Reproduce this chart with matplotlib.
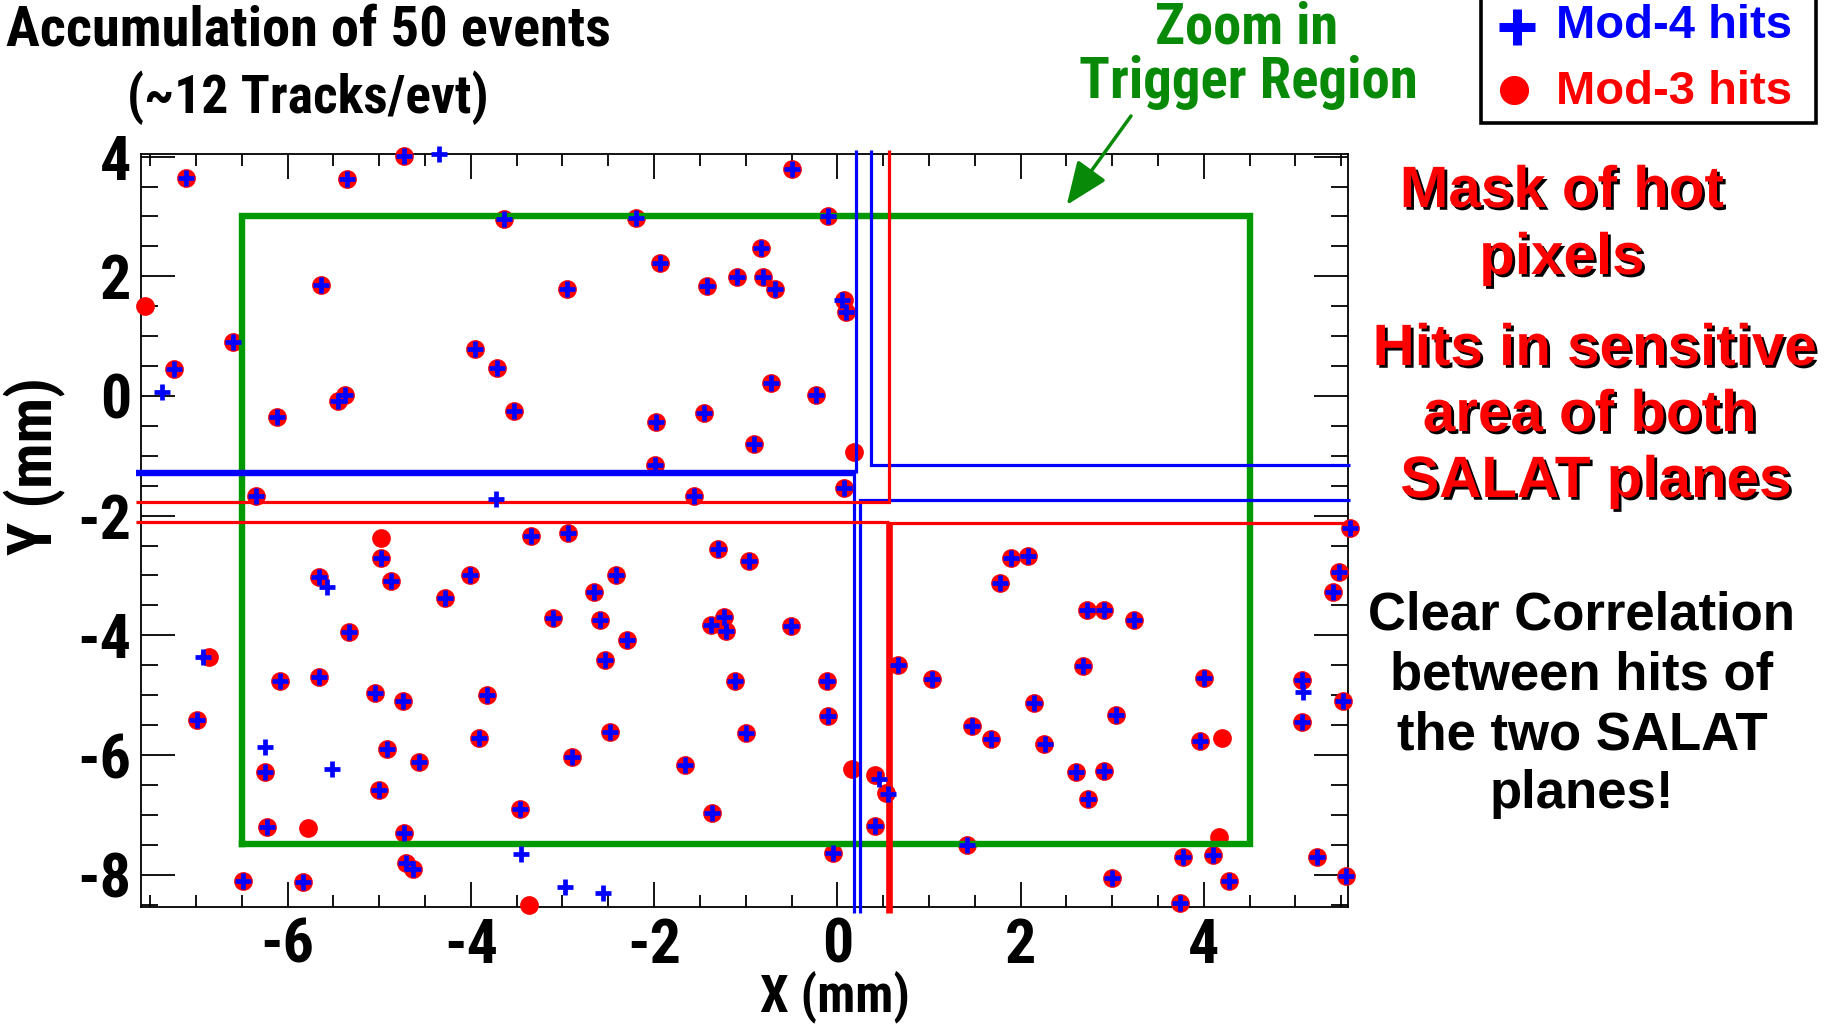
import matplotlib
matplotlib.use("Agg")
import matplotlib.pyplot as plt
import matplotlib.patheffects as pe
from matplotlib import font_manager as fm
from matplotlib.lines import Line2D
from matplotlib.patches import Rectangle
from matplotlib.ticker import MultipleLocator

# ---------------- data ----------------
# hits seen in Mod-3 (red dots) and Mod-4 (blue crosses), in mm
mod3_x = [-7.11, -5.35, -4.73, -3.64, -2.20, -1.94, -1.42, -2.95, -5.64, -6.60, -7.24,
          -3.96, -3.71, -6.12, -5.45, -5.37, -3.53, -1.98, -1.46, -1.99, -6.34, -1.56,
          -0.49, -0.10, -0.83, -1.10, -0.81, -0.68, 0.07, 0.09, -0.72, -0.23, -0.91, 0.07, 5.59,
          -4.98, -3.34, -2.94, -1.30, -5.66, -4.87, -4.28, -4.01, -2.66, -2.42, -3.10, -2.59,
          -2.30, -2.54, -1.38, -1.24, -1.22, -5.33, -6.86, -6.08, -5.66, -5.05, -4.74, -3.82,
          -1.12, -6.99, -6.25, -4.92, -4.57, -5.00, -3.91, -2.90, -2.48, -1.66, -3.46, -1.37,
          -6.23, -4.73, -4.71, -4.63, -6.49, -5.83,
          -0.96, -0.51, -0.11, -0.10, -1.00, 0.41, 0.53, 0.41, -0.05, 0.66, 1.03, 1.89, 2.08,
          1.78, 2.73, 2.91, 3.24, 2.68, 2.15, 3.04, 1.47, 1.68, 2.25, 2.60, 2.91, 2.74, 4.00,
          3.96, 4.10, 3.77, 4.27, 3.00, 3.74, 1.41, 5.07, 5.07, 5.52, 5.48, 5.41, 5.24, 5.55,
          -7.56, 0.18, -4.98, -5.78, -3.37, 0.16, 4.20, 4.16]
mod3_y = [3.65, 3.62, 4.01, 2.96, 2.97, 2.22, 1.84, 1.78, 1.86, 0.91, 0.45,
          0.79, 0.46, -0.35, -0.09, 0.02, -0.25, -0.43, -0.29, -1.15, -1.67, -1.67,
          3.80, 3.00, 2.47, 1.99, 1.99, 1.78, 1.60, 1.41, 0.21, 0.02, -0.80, -1.54, -2.20,
          -2.71, -2.34, -2.29, -2.56, -3.02, -3.10, -3.38, -3.00, -3.27, -2.99, -3.71, -3.75,
          -4.07, -4.41, -3.83, -3.70, -3.92, -3.94, -4.37, -4.76, -4.70, -4.97, -5.09, -5.00,
          -4.76, -5.41, -6.28, -5.90, -6.12, -6.59, -5.71, -6.04, -5.62, -6.17, -6.90, -6.97,
          -7.20, -7.31, -7.81, -7.91, -8.10, -8.13,
          -2.76, -3.85, -4.77, -5.35, -5.63, -6.34, -6.64, -7.19, -7.63, -4.50, -4.73, -2.70, -2.67,
          -3.12, -3.57, -3.57, -3.75, -4.51, -5.13, -5.33, -5.51, -5.73, -5.81, -6.28, -6.27, -6.73, -4.72,
          -5.77, -7.67, -7.70, -8.10, -8.06, -8.48, -7.51, -4.75, -5.45, -5.10, -2.95, -3.27, -7.70, -8.03,
          1.51, -0.93, -2.38, -7.22, -8.50, -6.24, -5.71, -7.37]

mod4_x = [-7.11, -5.35, -4.73, -3.64, -2.20, -1.94, -1.42, -2.95, -5.64, -6.60, -7.24,
          -3.96, -3.71, -6.12, -5.45, -5.37, -3.53, -1.98, -1.46, -1.99, -6.34, -1.56,
          -0.49, -0.10, -0.83, -1.10, -0.81, -0.68, 0.05, 0.09, -0.72, -0.23, -0.91, 0.07, 5.59,
          -4.98, -3.34, -2.94, -1.30, -5.66, -4.87, -4.28, -4.01, -2.66, -2.42, -3.10, -2.59,
          -2.30, -2.54, -1.38, -1.24, -1.22, -5.33, -6.92, -6.08, -5.66, -5.05, -4.74, -3.82,
          -1.12, -6.99, -6.25, -4.92, -4.57, -5.00, -3.91, -2.90, -2.48, -1.66, -3.46, -1.37,
          -6.23, -4.73, -4.71, -4.63, -6.49, -5.83,
          -0.96, -0.51, -0.11, -0.10, -1.00, 0.45, 0.55, 0.41, -0.05, 0.66, 1.03, 1.89, 2.08,
          1.78, 2.73, 2.91, 3.24, 2.68, 2.15, 3.04, 1.47, 1.68, 2.27, 2.60, 2.91, 2.74, 4.00,
          3.96, 4.10, 3.77, 4.27, 3.00, 3.74, 1.41, 5.07, 5.07, 5.52, 5.48, 5.41, 5.24, 5.55,
          -4.35, -7.37, -3.73, -5.57, -6.25, -5.52, -3.45, -2.97, -2.56, 5.08]
mod4_y = [3.65, 3.62, 4.01, 2.96, 2.97, 2.22, 1.84, 1.78, 1.86, 0.91, 0.45,
          0.79, 0.46, -0.35, -0.09, 0.02, -0.25, -0.43, -0.29, -1.15, -1.67, -1.67,
          3.80, 3.00, 2.47, 1.99, 1.99, 1.78, 1.60, 1.41, 0.21, 0.02, -0.80, -1.54, -2.20,
          -2.71, -2.34, -2.29, -2.56, -3.02, -3.10, -3.38, -3.00, -3.27, -2.99, -3.71, -3.75,
          -4.07, -4.41, -3.83, -3.70, -3.92, -3.94, -4.37, -4.76, -4.70, -4.97, -5.09, -5.00,
          -4.76, -5.41, -6.28, -5.90, -6.12, -6.59, -5.71, -6.04, -5.62, -6.17, -6.90, -6.97,
          -7.20, -7.31, -7.81, -7.91, -8.10, -8.13,
          -2.76, -3.85, -4.77, -5.35, -5.63, -6.40, -6.66, -7.19, -7.63, -4.50, -4.73, -2.70, -2.67,
          -3.12, -3.57, -3.57, -3.75, -4.51, -5.13, -5.33, -5.51, -5.73, -5.82, -6.28, -6.27, -6.73, -4.72,
          -5.77, -7.67, -7.70, -8.10, -8.06, -8.48, -7.51, -4.75, -5.45, -5.10, -2.95, -3.27, -7.70, -8.03,
          4.04, 0.06, -1.73, -3.20, -5.87, -6.23, -7.66, -8.20, -8.31, -4.94]

# trigger region (green box), mm
trigger_x = [-6.5, 4.5]
trigger_y = [-7.48, 3.0]

# masked / sensitive-area boundaries of Mod-4 (blue) and Mod-3 (red), as polylines in mm
mod4_edges = [
    ([-7.66, 0.205], [-1.29, -1.29]),                 # heavy line
    ([0.205, 0.205], [4.11, -1.29]),
    ([0.18, 0.18], [-1.29, -8.64]),
    ([0.368, 0.368, 5.60], [4.11, -1.153, -1.153]),
    ([5.60, 0.248, 0.248], [-1.74, -1.74, -8.64]),
]
mod3_edges = [
    ([-7.66, 0.56, 0.56], [-1.77, -1.77, 4.11]),
    ([-7.66, 0.56], [-2.10, -2.10]),
    ([0.56, 5.60], [-2.125, -2.125]),
    ([0.56, 0.56], [-2.10, -8.64]),                   # heavy line
]

xticks = [-6, -4, -2, 0, 2, 4]
yticks = [-8, -6, -4, -2, 0, 2, 4]
xlim = (-7.6, 5.57)
ylim = (-8.54, 4.045)

# ---------------- fonts ----------------
plt.rcParams['axes.unicode_minus'] = False


def narrow_bold_font():
    """Return FontProperties for a condensed bold sans face, if one is installed."""
    best, best_rank = None, 99
    for f in fm.fontManager.ttflist:
        tag = (f.name + ' ' + f.fname).lower()
        if f.style != 'normal':
            continue
        if not (isinstance(f.weight, int) and 600 <= f.weight <= 750) and f.weight != 'bold':
            continue
        if not ('narrow' in tag or 'condensed' in tag or str(f.stretch) != 'normal'):
            continue
        if 'mono' in tag or 'serif' in tag.replace('sans', ''):
            continue
        if 'liberation' in tag and 'narrow' in tag:
            rank = 0
        elif 'roboto' in tag and 'condensed' in tag:
            rank = 1
        elif 'extra' in tag or 'ultra' in tag:
            rank = 4
        elif 'semi' in tag:
            rank = 3
        else:
            rank = 2
        if rank < best_rank:
            best, best_rank = f, rank
    if best is None:
        return fm.FontProperties(family='Liberation Sans', weight='bold')
    return fm.FontProperties(fname=best.fname)


FP_NARROW = narrow_bold_font()
WIDE = 'Liberation Sans'

BLUE = '#0000ff'
RED = '#ff0000'
GREEN = '#009900'
GREEN_TXT = '#088a08'

W, H = 1828, 1025
fig = plt.figure(figsize=(W / 100, H / 100), dpi=100)
fig.patch.set_facecolor('white')
renderer = fig.canvas.get_renderer()


def fx(px):
    return px / W


def fy(py):
    return 1 - py / H


def narrow_text(px, py, s, width_px, **kw):
    """Place a condensed bold label and size it so it spans width_px pixels."""
    t = fig.text(fx(px), fy(py), s, ha='center', va='center',
                 fontproperties=FP_NARROW, **kw)
    t.set_fontsize(40)
    ext = t.get_window_extent(renderer)
    span = ext.height if kw.get('rotation') == 90 else ext.width
    t.set_fontsize(40 * width_px / span)
    return t


left, right, top, bottom = 141, 1347.7, 153.9, 907
ax = fig.add_axes([fx(left), fy(bottom), (right - left) / W, (bottom - top) / H])
ax.set_xlim(*xlim)
ax.set_ylim(*ylim)
for s in ax.spines.values():
    s.set_linewidth(1.3)
    s.set_zorder(1)

# tick label size chosen so that "-8" spans about 54 px
probe = fig.text(0, 0, '-8', fontproperties=FP_NARROW)
probe.set_fontsize(40)
tick_size = 40 * 54 / probe.get_window_extent(renderer).width
probe.remove()

ax.set_xticks(xticks, labels=[str(v) for v in xticks])
ax.set_yticks(yticks, labels=[str(v) for v in yticks])
for lbl in ax.get_xticklabels() + ax.get_yticklabels():
    lbl.set_fontproperties(FP_NARROW)
    lbl.set_fontsize(tick_size)
ax.xaxis.set_minor_locator(MultipleLocator(0.5))
ax.yaxis.set_minor_locator(MultipleLocator(0.5))
ax.tick_params(axis='x', which='major', direction='in', length=18, width=1.3,
               top=True, bottom=True, pad=7)
ax.tick_params(axis='x', which='minor', direction='in', length=8.5, width=1.3,
               top=True, bottom=True)
ax.tick_params(axis='y', which='major', direction='in', length=24.5, width=1.3,
               left=True, right=True, pad=7)
ax.tick_params(axis='y', which='minor', direction='in', length=12.5, width=1.3,
               left=True, right=True)

# red dots underneath, boundary lines, blue crosses on top
ax.plot(mod3_x, mod3_y, linestyle='none', marker='o', ms=13.5, mfc=RED, mec=RED,
        mew=0, clip_on=False, zorder=3)

x0, x1 = trigger_x
y0, y1 = trigger_y
ax.plot([x0, x1, x1, x0, x0], [y0, y0, y1, y1, y0], color=GREEN, lw=4.6,
        solid_joinstyle='miter', clip_on=False, zorder=4)

for i, (xs, ys) in enumerate(mod4_edges):
    ax.plot(xs, ys, color=BLUE, lw=4.6 if i == 0 else 2.3, solid_joinstyle='miter',
            solid_capstyle='butt', clip_on=False, zorder=5)
for i, (xs, ys) in enumerate(mod3_edges):
    ax.plot(xs, ys, color=RED, lw=4.8 if i == 3 else 2.3, solid_joinstyle='miter',
            solid_capstyle='butt', clip_on=False, zorder=5)

ax.plot(mod4_x, mod4_y, linestyle='none', marker='+', ms=12, mew=3.4, color=BLUE,
        clip_on=False, zorder=6)

# axis titles
narrow_text(35, 466, 'Y (mm)', 178, rotation=90)
narrow_text(835, 997, 'X (mm)', 150)

# header
narrow_text(308, 31, 'Accumulation of 50 events', 604)
narrow_text(308, 98, '(~12 Tracks/evt)', 361)

# trigger-region callout
narrow_text(1247, 28, 'Zoom in', 183, color=GREEN_TXT)
narrow_text(1248, 82, 'Trigger Region', 338, color=GREEN_TXT)
ax.annotate('', xy=(1066.7, H - 205), xycoords='figure pixels',
            xytext=(1131, H - 116), textcoords='figure pixels',
            arrowprops=dict(arrowstyle='-|>,head_length=1.1,head_width=0.45',
                            color=GREEN_TXT, lw=2.5, mutation_scale=24,
                            shrinkA=0, shrinkB=0))

# legend box
fig.add_artist(Rectangle((fx(1481), fy(122.5)), (1816 - 1481) / W, 140 / H,
                         transform=fig.transFigure, facecolor='white',
                         edgecolor='black', lw=2.6, zorder=10))
fig.add_artist(Line2D([fx(1517)], [fy(27)], marker='+', ms=26, mew=6.5, color=BLUE,
                      transform=fig.transFigure, zorder=11))
fig.add_artist(Line2D([fx(1514)], [fy(90)], marker='o', ms=21, mew=0, color=RED,
                      transform=fig.transFigure, zorder=11))
fig.text(fx(1556), fy(26), 'Mod-4 hits', ha='left', va='center', color=BLUE,
         fontsize=34, fontfamily=WIDE, fontweight='bold', zorder=12)
fig.text(fx(1556), fy(92), 'Mod-3 hits', ha='left', va='center', color=RED,
         fontsize=34, fontfamily=WIDE, fontweight='bold', zorder=12)

# side notes
shadow = [pe.withSimplePatchShadow(offset=(2, -2), shadow_rgbFace='black', alpha=1.0)]
for txt, (px, py) in [('Mask of hot', (1562, 192)), ('pixels', (1562, 259)),
                      ('Hits in sensitive', (1595, 350)), ('area of both', (1590, 416)),
                      ('SALAT planes', (1596, 482))]:
    fig.text(fx(px), fy(py), txt, ha='center', va='center', color=RED, fontsize=42,
             fontfamily=WIDE, fontweight='bold', path_effects=shadow)

for txt, py in [('Clear Correlation', 615), ('between hits of', 675),
                ('the two SALAT', 735), ('planes!', 794)]:
    fig.text(fx(1582), fy(py), txt, ha='center', va='center', color='black',
             fontsize=38, fontfamily=WIDE, fontweight='bold')

fig.savefig('out.png', dpi=100, facecolor='white')
